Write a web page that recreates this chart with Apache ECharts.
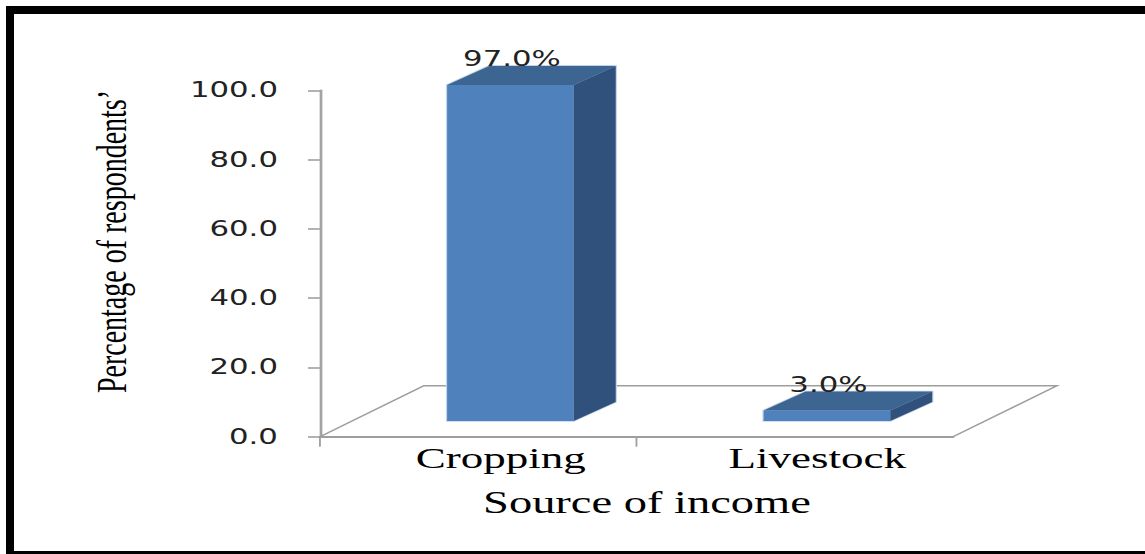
<!DOCTYPE html>
<html>
<head>
<meta charset="utf-8">
<title>Source of income</title>
<script src="https://cdn.jsdelivr.net/npm/echarts@6/dist/echarts.min.js"></script>
<style>
  html, body { margin: 0; padding: 0; background: #fff; overflow: hidden; }
  body { width: 1145px; height: 554px; position: relative; }
  /* the chart is laid out narrow and stretched sideways, like the printed figure */
  #chart { position: absolute; left: 0; top: 0; width: 763px; height: 554px;
           transform: scaleX(1.5); transform-origin: 0 0; }
  #frame { position: absolute; left: 6px; top: 6px; width: 1200px; height: 548px;
           box-sizing: border-box; border-top: 8px solid #000; border-left: 8px solid #000;
           border-bottom: 3px solid #000; pointer-events: none; }
</style>
</head>
<body>
<div id="chart"></div>
<div id="frame"></div>
<script>
// ---- data ----
const categories = ['Cropping', 'Livestock'];
const shares = [97.0, 3.0];
const yMin = 0;
const yMax = 100;
const yStep = 20;
const xTitle = 'Source of income';
const yTitle = 'Percentage of respondents\u2019';

// ---- 3D look ----
const FLOOR = { dx: 69.3, dy: -51 };     // depth of the floor plane
const BAR_SLOT = 0.31;                   // how far back on the floor the bars stand
const BAR_DEPTH = { dx: 28, dy: -19 };   // depth of each column
const BAR_WIDTH = 0.4;                   // share of the category band
const COLORS = { front: '#4F81BD', top: '#3D6592', side: '#31517D', rim: '#C3D4EA' };
const GRID_LINE = '#9E9E9E';

const chart = echarts.init(document.getElementById('chart'), null, { renderer: 'svg' });

function renderFloor(params, api) {
  const n = categories.length;
  const first = api.coord([0, 0]);
  const last = api.coord([n - 1, 0]);
  const band = api.size([1, 0])[0];
  const xL = first[0] - band / 2;
  const xR = last[0] + band / 2;
  const y0 = first[1];
  const children = [{
    type: 'polyline',
    shape: { points: [[xL, y0], [xL + FLOOR.dx, y0 + FLOOR.dy], [xR + FLOOR.dx, y0 + FLOOR.dy], [xR, y0]] },
    style: { stroke: GRID_LINE, lineWidth: 1.4, fill: null }
  }];
  for (let i = 0; i < n; i++) {
    const x = xL + i * band;
    children.push({
      type: 'line',
      shape: { x1: x, y1: y0, x2: x, y2: y0 + 10 },
      style: { stroke: GRID_LINE, lineWidth: 1.2 }
    });
  }
  return { type: 'group', children };
}

function renderColumn(params, api) {
  const idx = api.value(0);
  const v = api.value(1);
  const base = api.coord([idx, 0]);
  const top = api.coord([idx, v]);
  const band = api.size([1, 0])[0];
  const ox = FLOOR.dx * BAR_SLOT;
  const oy = FLOOR.dy * BAR_SLOT;
  const w = band * BAR_WIDTH;
  const xl = base[0] + ox - w / 2;
  const xr = xl + w;
  const yb = base[1] + oy;
  const yt = top[1] + oy;
  const dx = BAR_DEPTH.dx;
  const dy = BAR_DEPTH.dy;
  return {
    type: 'group',
    children: [
      { type: 'polygon',
        shape: { points: [[xl, yb], [xl, yt], [xl + dx, yt + dy], [xr + dx, yt + dy], [xr + dx, yb + dy], [xr, yb]] },
        style: { fill: COLORS.rim, stroke: COLORS.rim, lineWidth: 1.6 } },
      { type: 'rect', shape: { x: xl, y: yt, width: w, height: yb - yt }, style: { fill: COLORS.front } },
      { type: 'polygon',
        shape: { points: [[xl, yt], [xr, yt], [xr + dx, yt + dy], [xl + dx, yt + dy]] },
        style: { fill: COLORS.top } },
      { type: 'polygon',
        shape: { points: [[xr, yt], [xr + dx, yt + dy], [xr + dx, yb + dy], [xr, yb]] },
        style: { fill: COLORS.side } },
      { type: 'text',
        x: (xl + xr) / 2 + 1,
        y: yt + dy + 4,
        style: {
          text: v.toFixed(1) + '%',
          fontFamily: 'DejaVu Sans', fontSize: 20.5, fill: '#222',
          align: 'center', verticalAlign: 'bottom'
        } }
    ]
  };
}

const option = {
  animation: false,
  backgroundColor: '#fff',
  grid: { left: 213.3, top: 90.3, width: 422, height: 346.4 },
  xAxis: {
    type: 'category',
    data: categories,
    axisLine: { show: true, lineStyle: { color: GRID_LINE, width: 2 } },
    axisTick: { show: false },
    axisLabel: {
      margin: 6, fontFamily: 'Liberation Serif', fontSize: 30, color: '#000',
      padding: [0, 0, 0, 30]
    },
    splitLine: { show: false },
    name: xTitle,
    nameLocation: 'middle',
    nameGap: 51,
    nameTextStyle: { fontFamily: 'Liberation Serif', fontSize: 31, color: '#000', padding: [0, 0, 0, 14] }
  },
  yAxis: {
    type: 'value',
    min: yMin, max: yMax, interval: yStep,
    axisLine: { show: true, lineStyle: { color: '#A3A3A3', width: 1.8 } },
    axisTick: { show: true, length: 8, lineStyle: { color: '#9A9A9A', width: 1.5 } },
    splitLine: { show: false },
    axisLabel: {
      margin: 28, formatter: v => v.toFixed(1),
      fontFamily: 'DejaVu Sans', fontSize: 20.5, color: '#222'
    },
    name: yTitle,
    nameLocation: 'middle',
    nameRotate: 90,
    nameGap: 124.6,
    nameTextStyle: { fontFamily: 'Liberation Serif', fontSize: 28, color: '#000', padding: [0, 0, 0, 44] }
  },
  series: [
    { type: 'custom', name: 'floor', z: 1, clip: false, silent: true,
      renderItem: renderFloor, data: [[0, 0]], encode: { x: 0, y: 1 } },
    { type: 'custom', name: 'Source of income', z: 2, clip: false,
      renderItem: renderColumn,
      data: shares.map((v, i) => [i, v]),
      encode: { x: 0, y: 1 } }
  ]
};

chart.setOption(option);
</script>
</body>
</html>
